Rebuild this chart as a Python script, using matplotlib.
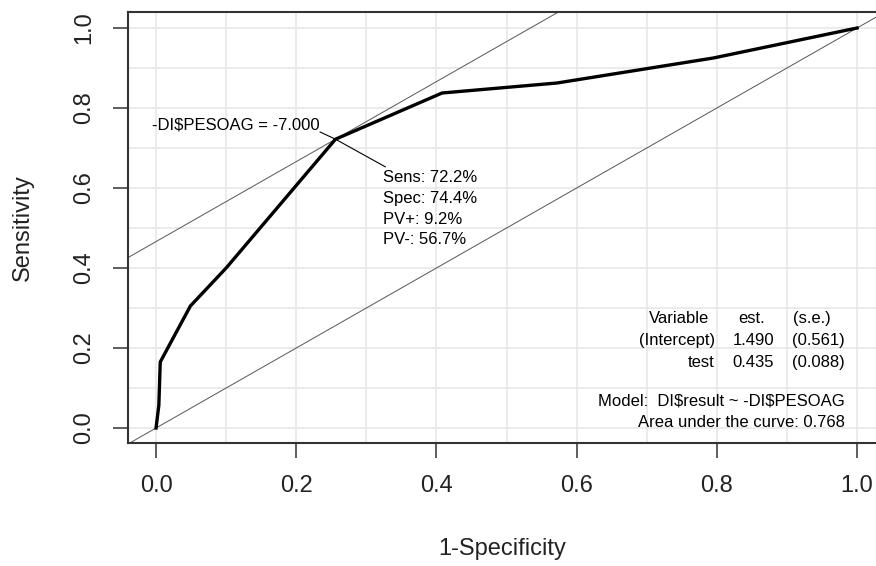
import matplotlib
matplotlib.use('Agg')
import matplotlib.pyplot as plt

plt.rcParams['font.family'] = ['Liberation Sans', 'DejaVu Sans']

# ROC curve points (1-specificity, sensitivity)
fpr = [0.0, 0.004, 0.006, 0.049, 0.10, 0.256, 0.408, 0.572, 0.795, 1.0]
sens = [0.0, 0.057, 0.165, 0.305, 0.40, 0.722, 0.8375, 0.8625, 0.925, 1.0]

# optimal cut point
opt_x = 0.256
opt_y = 0.722
cut_label = '-DI$PESOAG = -7.000'
stats_lines = ['Sens: 72.2%', 'Spec: 74.4%', 'PV+: 9.2%', 'PV-: 56.7%']

# model table
tab_names = ['Variable', '(Intercept)', 'test']
tab_est = ['est.', '1.490', '0.435']
tab_se = ['(s.e.)', '(0.561)', '(0.088)']
model_txt = 'Model:  DI$result ~ -DI$PESOAG'
auc_txt = 'Area under the curve: 0.768'

fig = plt.figure(figsize=(8.76, 5.66), dpi=100)
ax = fig.add_axes([128 / 876, 1 - 443 / 566, 1 - 128 / 876, (443 - 12) / 566])

xlo, xhi = -0.04, 1.027
ylo, yhi = -0.0375, 1.04
ax.set_xlim(xlo, xhi)
ax.set_ylim(ylo, yhi)

# light grid every 0.1
for g in [i / 10 for i in range(11)]:
    ax.axvline(g, color='#e6e6e6', lw=1.1, zorder=0)
    ax.axhline(g, color='#e6e6e6', lw=1.1, zorder=0)

# diagonal and the parallel line through the optimal point
ax.axline((0, 0), slope=1, color='#555555', lw=0.7, zorder=1)
ax.axline((opt_x, opt_y), slope=1, color='#555555', lw=0.7, zorder=1)

ax.plot(fpr, sens, color='black', lw=2.4, zorder=3)

fs = 12
# annotation of the cut point
ax.plot([0.234, opt_x, 0.327], [0.74, opt_y, 0.653], color='black', lw=0.8, zorder=2)
ax.text(0.233, 0.757, cut_label, ha='right', va='center', fontsize=fs, parse_math=False)
for i, s in enumerate(stats_lines):
    ax.text(0.324, 0.6275 - i * 0.0525, s, ha='left', va='center', fontsize=fs, parse_math=False)

# model table
rows_y = [0.262, 0.207, 0.152]
for i in range(3):
    name_x = 0.789 if i == 0 else 0.797
    ax.text(name_x, rows_y[i], tab_names[i], ha='right', va='baseline', fontsize=fs)
    est_x = 0.868 if i == 0 else 0.882
    ax.text(est_x, rows_y[i], tab_est[i], ha='right', va='baseline', fontsize=fs)
    se_x = 0.962 if i == 0 else 0.983
    ax.text(se_x, rows_y[i], tab_se[i], ha='right', va='baseline', fontsize=fs)
ax.text(0.983, 0.057, model_txt, ha='right', va='baseline', fontsize=fs, parse_math=False)
ax.text(0.983, 0.002, auc_txt, ha='right', va='baseline', fontsize=fs, parse_math=False)

ticks = [0.0, 0.2, 0.4, 0.6, 0.8, 1.0]
ax.set_xticks(ticks)
ax.set_xticklabels(['%.1f' % t for t in ticks])
ax.set_yticks(ticks)
ax.set_yticklabels(['%.1f' % t for t in ticks], rotation=90, va='center')
ax.tick_params(length=10.8, width=1.1, colors='#333333', labelsize=17, labelcolor='#222222')
ax.tick_params(axis='x', pad=12)
ax.tick_params(axis='y', pad=13)

for side in ['left', 'bottom', 'top']:
    ax.spines[side].set_color('#333333')
    ax.spines[side].set_linewidth(1.5)
ax.spines['right'].set_visible(False)

ax.set_xlabel('1-Specificity', fontsize=17, color='#222222', labelpad=30)
ax.set_ylabel('Sensitivity', fontsize=17, color='#222222', labelpad=28)

fig.savefig('out.png', dpi=100)
